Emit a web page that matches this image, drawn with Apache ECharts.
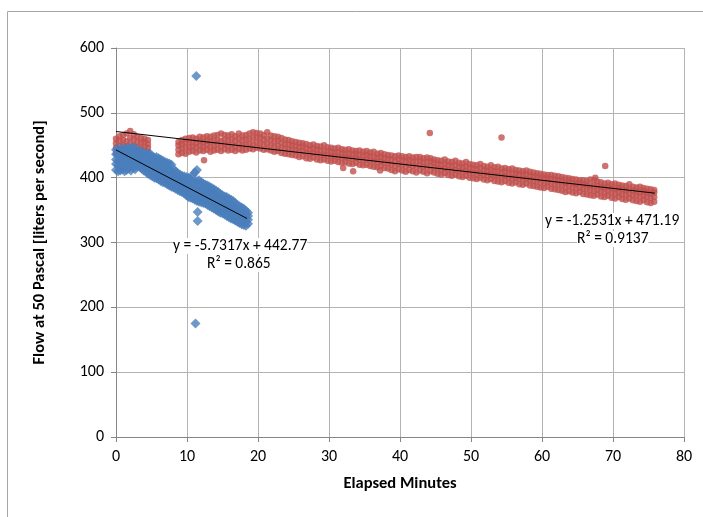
<!DOCTYPE html>
<html>
<head>
<meta charset="utf-8">
<script src="https://cdn.jsdelivr.net/npm/echarts@6/dist/echarts.min.js"></script>
<style>
  html, body { margin: 0; padding: 0; background: #fff; }
  #main { width: 703px; height: 517px; }
</style>
</head>
<body>
<div id="main"></div>
<script>
// 刻度
var xTicks = [0, 80, 10];
var yTicks = [0, 600, 100];

// 蓝色系列: 每行 [分钟, 读数...]
var blueRows = [
  [0.0, 412, 421, 428, 436, 443], [0.3, 410, 419, 426, 435, 444], [0.6, 411, 418, 427, 434, 442],
  [0.9, 413, 422, 430, 438, 446], [1.2, 410, 417, 425, 433, 441], [1.5, 412, 420, 429, 437, 445],
  [1.8, 414, 423, 430, 439, 446], [2.1, 411, 419, 428, 435, 444], [2.4, 415, 422, 431, 439, 447],
  [2.7, 413, 421, 429, 438, 445], [3.0, 418, 425, 432, 438], [3.3, 417, 424, 431, 437, 441],
  [3.6, 414, 421, 428, 435, 440], [3.9, 411, 419, 426, 433, 439], [4.2, 409, 416, 424, 431, 437],
  [4.5, 406, 414, 422, 429, 436], [4.8, 404, 412, 420, 428, 437], [5.1, 402, 410, 417, 426, 433],
  [5.4, 400, 408, 416, 424, 431], [5.7, 399, 407, 415, 423, 432], [6.0, 397, 405, 413, 421, 430],
  [6.3, 395, 403, 411, 419, 428], [6.6, 393, 401, 409, 418, 426], [6.9, 392, 400, 408, 416, 424],
  [7.2, 390, 398, 406, 414, 423], [7.5, 388, 396, 404, 413, 422], [7.8, 386, 394, 402, 410, 420],
  [8.1, 385, 392, 399, 406, 413], [8.4, 383, 390, 397, 404, 410], [8.7, 381, 388, 395, 401, 407],
  [9.0, 379, 386, 393, 399, 405], [9.3, 378, 385, 391, 397, 403], [9.6, 376, 383, 389, 395, 402],
  [9.9, 373, 380, 387, 394, 401], [10.2, 370, 378, 385, 392, 400], [10.5, 369, 376, 384, 391, 398],
  [10.8, 368, 375, 383, 392, 404], [11.1, 366, 374, 382, 393, 408], [11.4, 364, 372, 381, 395, 412],
  [11.7, 363, 371, 379, 388, 396], [12.0, 362, 370, 378, 386, 393], [12.3, 361, 369, 377, 384, 391],
  [12.6, 360, 368, 375, 382, 389], [12.9, 358, 366, 373, 380, 388], [13.2, 356, 364, 371, 378, 386],
  [13.5, 354, 362, 369, 376, 384], [13.8, 352, 360, 367, 374, 382], [14.1, 350, 358, 365, 372, 380],
  [14.4, 348, 356, 363, 370, 378], [14.7, 346, 354, 361, 368, 375], [15.0, 345, 352, 359, 366, 373],
  [15.3, 343, 350, 357, 364, 371], [15.6, 341, 348, 355, 362, 370], [15.9, 339, 346, 353, 360, 368],
  [16.2, 337, 344, 351, 358, 366], [16.5, 336, 343, 350, 357, 364], [16.8, 334, 341, 348, 355, 361],
  [17.1, 332, 339, 346, 352, 358], [17.4, 330, 337, 344, 350, 356], [17.7, 328, 335, 342, 348, 354],
  [18.0, 327, 334, 340, 346, 352], [18.3, 326, 332, 338, 344, 349], [18.6, 329, 335, 341, 346]
];
var blueOutliers = [[11.3, 557], [11.2, 175], [11.5, 347], [11.5, 333]];

// 红色系列
var redRows = [
  [0.0, 438, 446, 453, 460], [0.5, 441, 449, 457, 464], [1.0, 443, 450, 458, 466],
  [1.5, 440, 448, 456, 468], [2.0, 444, 452, 461, 472], [2.5, 442, 450, 459, 467],
  [3.0, 440, 447, 455, 463], [3.5, 438, 446, 454, 461], [4.0, 441, 448, 455, 460],
  [4.5, 440, 446, 452, 458],
  [8.8, 436, 443, 450, 455], [9.3, 438, 445, 452, 458], [9.8, 437, 446, 454, 460],
  [10.3, 440, 447, 455, 461], [10.8, 441, 448, 455, 462], [11.3, 439, 447, 454, 460],
  [11.8, 442, 449, 456, 463], [12.3, 441, 448, 455, 462], [12.8, 443, 450, 457, 464],
  [13.3, 440, 448, 456, 463], [13.8, 442, 449, 457, 465], [14.3, 443, 451, 458, 466],
  [14.8, 441, 449, 457, 468], [15.3, 444, 451, 459, 466], [15.8, 442, 450, 458, 465],
  [16.3, 443, 451, 459, 467], [16.8, 441, 449, 457, 464], [17.3, 444, 452, 460, 468],
  [17.8, 442, 450, 458, 465], [18.3, 443, 451, 459, 466], [18.8, 445, 452, 460, 468],
  [19.3, 444, 452, 461, 470], [19.8, 446, 454, 462, 469], [20.3, 445, 453, 461, 468],
  [20.8, 443, 451, 459, 466], [21.3, 444, 452, 460, 470], [21.8, 442, 450, 458, 465],
  [22.3, 440, 448, 456, 464], [22.8, 441, 449, 457, 463], [23.3, 438, 446, 454, 461],
  [23.8, 437, 445, 452, 459], [24.3, 436, 444, 451, 458], [24.8, 435, 443, 450, 456],
  [25.3, 434, 442, 449, 455], [25.8, 432, 440, 447, 454], [26.3, 433, 441, 448, 453],
  [26.8, 430, 438, 445, 452], [27.3, 429, 437, 444, 450], [27.8, 431, 438, 445, 451],
  [28.3, 428, 436, 443, 449], [28.8, 427, 435, 442, 448], [29.3, 428, 435, 442, 450],
  [29.8, 426, 434, 441, 447], [30.3, 425, 433, 440, 446], [30.8, 426, 433, 439, 445],
  [31.3, 424, 432, 439, 446], [31.8, 423, 431, 438, 444], [32.3, 424, 431, 437, 443],
  [32.8, 422, 430, 437, 444], [33.3, 421, 429, 436, 442], [33.8, 423, 430, 436, 441],
  [34.3, 420, 428, 435, 442], [34.8, 419, 427, 434, 440], [35.3, 420, 428, 435, 441],
  [35.8, 418, 426, 433, 439], [36.3, 417, 425, 432, 440], [36.8, 416, 424, 431, 437],
  [37.3, 418, 425, 432, 438], [37.8, 415, 423, 430, 436], [38.3, 414, 422, 429, 435],
  [38.8, 412, 420, 428, 434], [39.3, 410, 418, 426, 433], [39.8, 413, 421, 428, 434],
  [40.3, 411, 419, 427, 433], [40.8, 409, 418, 426, 432], [41.3, 412, 420, 427, 433],
  [41.8, 410, 418, 425, 431], [42.3, 408, 417, 425, 432], [42.8, 411, 419, 426, 432],
  [43.3, 409, 417, 424, 430], [43.8, 407, 416, 424, 431], [44.3, 410, 418, 425, 430],
  [44.8, 408, 416, 423, 428], [45.3, 406, 414, 421, 427], [45.8, 405, 413, 420, 426],
  [46.3, 407, 414, 421, 428], [46.8, 404, 412, 419, 425], [47.3, 403, 411, 418, 424],
  [47.8, 405, 412, 419, 426], [48.3, 402, 410, 417, 423], [48.8, 401, 409, 416, 422],
  [49.3, 403, 410, 417, 424], [49.8, 400, 408, 415, 421], [50.3, 399, 407, 414, 420],
  [50.8, 398, 406, 413, 419], [51.3, 400, 407, 414, 421], [51.8, 397, 405, 412, 418],
  [52.3, 396, 404, 411, 417], [52.8, 398, 405, 412, 419], [53.3, 395, 403, 410, 416],
  [53.8, 394, 402, 409, 417], [54.3, 393, 401, 408, 414], [54.8, 395, 402, 409, 415],
  [55.3, 392, 400, 407, 413], [55.8, 391, 399, 406, 414], [56.3, 393, 400, 407, 412],
  [56.8, 390, 398, 405, 411], [57.3, 389, 397, 404, 410], [57.8, 391, 398, 405, 411],
  [58.3, 388, 396, 403, 409], [58.8, 387, 395, 402, 408], [59.3, 386, 394, 401, 407],
  [59.8, 385, 393, 400, 406], [60.3, 384, 392, 399, 405], [60.8, 386, 393, 399, 404],
  [61.3, 383, 391, 398, 404], [61.8, 382, 390, 397, 403], [62.3, 381, 389, 396, 402],
  [62.8, 380, 388, 395, 401], [63.3, 378, 386, 393, 400], [63.8, 379, 387, 394, 399],
  [64.3, 377, 385, 392, 398], [64.8, 376, 384, 391, 397], [65.3, 378, 385, 392, 396],
  [65.8, 375, 383, 390, 396], [66.3, 374, 382, 389, 395], [66.8, 373, 381, 388, 397],
  [67.3, 372, 380, 388, 396], [67.8, 374, 381, 388, 394], [68.3, 371, 379, 386, 393],
  [68.8, 370, 378, 385, 391], [69.3, 372, 379, 386, 392], [69.8, 369, 377, 384, 390],
  [70.3, 368, 376, 383, 391], [70.8, 370, 377, 384, 389], [71.3, 367, 375, 382, 388],
  [71.8, 366, 374, 381, 387], [72.3, 368, 375, 382, 390], [72.8, 365, 373, 380, 386],
  [73.3, 364, 372, 379, 385], [73.8, 363, 371, 378, 386], [74.3, 365, 372, 379, 384],
  [74.8, 362, 370, 377, 383], [75.3, 361, 369, 376, 382], [75.8, 363, 370, 377, 381]
];
var redOutliers = [[44.2, 469], [54.3, 462], [68.9, 418], [67.5, 400], [12.4, 427], [4.9, 429],
  [32.0, 415], [33.4, 410], [37.2, 411], [0.1, 438]];

// 趋势线端点
var blueTrend = [[0, 442.77], [18.45, 337.02]];
var redTrend = [[0, 471.19], [75.9, 376.08]];
var blueLabel = ['y = -5.7317x + 442.77', 'R\u00b2 = 0.865'];
var redLabel = ['y = -1.2531x + 471.19', 'R\u00b2 = 0.9137'];

function rowsToPoints(rows, extra) {
  var pts = [];
  for (var i = 0; i < rows.length; i++) {
    for (var j = 1; j < rows[i].length; j++) {
      pts.push([rows[i][0], rows[i][j]]);
    }
  }
  return pts.concat(extra);
}

var font = 'Carlito, Lato, sans-serif';
var myChart = echarts.init(document.getElementById('main'));

var option = {
  animation: false,
  backgroundColor: '#fff',
  grid: { left: 116, right: 19, top: 48, bottom: 80 },
  xAxis: {
    type: 'value',
    min: xTicks[0], max: xTicks[1], interval: xTicks[2],
    name: 'Elapsed Minutes',
    nameLocation: 'middle',
    nameGap: 38,
    nameTextStyle: { fontFamily: font, fontSize: 16.5, fontWeight: 'bold', color: '#000' },
    axisLine: { show: true, lineStyle: { color: '#868686' } },
    axisTick: { show: true, length: 5, lineStyle: { color: '#868686' } },
    axisLabel: { fontFamily: font, fontSize: 16, color: '#000', margin: 12 },
    splitLine: { show: true, lineStyle: { color: '#b3b3b3' } }
  },
  yAxis: {
    type: 'value',
    min: yTicks[0], max: yTicks[1], interval: yTicks[2],
    name: 'Flow at 50 Pascal [liters per second]',
    nameLocation: 'middle',
    nameGap: 68,
    nameTextStyle: { fontFamily: font, fontSize: 16.5, fontWeight: 'bold', color: '#000' },
    axisLine: { show: true, lineStyle: { color: '#868686' } },
    axisTick: { show: true, length: 5, lineStyle: { color: '#868686' } },
    axisLabel: { fontFamily: font, fontSize: 16, color: '#000', margin: 12 },
    splitLine: { show: true, lineStyle: { color: '#b3b3b3' } }
  },
  series: [
    {
      type: 'scatter',
      symbol: 'circle',
      symbolSize: 6.5,
      itemStyle: { color: '#c0504d' },
      data: rowsToPoints(redRows, redOutliers),
      z: 2
    },
    {
      type: 'scatter',
      symbol: 'diamond',
      symbolSize: 10,
      itemStyle: { color: '#4a7ebb' },
      data: rowsToPoints(blueRows, blueOutliers),
      z: 3
    },
    {
      type: 'line',
      data: redTrend,
      symbol: 'none',
      lineStyle: { color: '#000', width: 1 },
      z: 4
    },
    {
      type: 'line',
      data: blueTrend,
      symbol: 'none',
      lineStyle: { color: '#000', width: 1 },
      z: 4
    }
  ],
  graphic: [
    {
      type: 'rect',
      shape: { x: 7.5, y: 11.5, width: 720, height: 540 },
      style: { fill: 'none', stroke: '#a6a6a6', lineWidth: 1 },
      silent: true
    },
    { type: 'text', left: 173, top: 238, z: 10,
      style: { text: blueLabel[0], font: '15.5px ' + font, fill: '#000', backgroundColor: '#fff' } },
    { type: 'text', left: 207, top: 256, z: 10,
      style: { text: blueLabel[1], font: '15.5px ' + font, fill: '#000', backgroundColor: '#fff' } },
    { type: 'text', left: 545, top: 213, z: 10,
      style: { text: redLabel[0], font: '15.5px ' + font, fill: '#000', backgroundColor: '#fff' } },
    { type: 'text', left: 577, top: 231, z: 10,
      style: { text: redLabel[1], font: '15.5px ' + font, fill: '#000', backgroundColor: '#fff' } }
  ]
};

myChart.setOption(option);
</script>
</body>
</html>
